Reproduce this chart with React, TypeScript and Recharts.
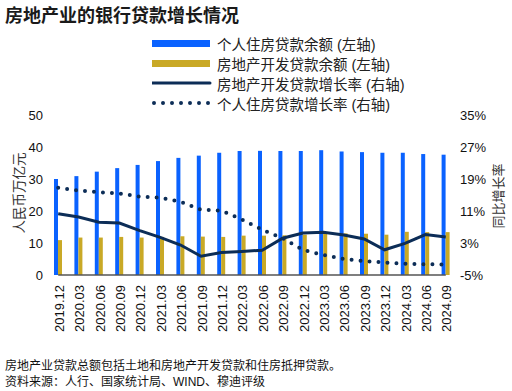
import {
  ComposedChart, Bar, Line, XAxis, YAxis, ReferenceLine,
} from 'recharts'

// ─── Data ────────────────────────────────────────────────────────
const categories = [
  '2019.12', '2020.03', '2020.06', '2020.09', '2020.12',
  '2021.03', '2021.06', '2021.09', '2021.12', '2022.03',
  '2022.06', '2022.09', '2022.12', '2023.03', '2023.06',
  '2023.09', '2023.12', '2024.03', '2024.06', '2024.09',
]
// 个人住房贷款余额 (万亿元)
const housingBalance = [
  30.0, 30.9, 32.3, 33.4, 34.4, 35.6, 36.6, 37.3, 38.2, 38.75,
  38.8, 38.75, 38.75, 39.0, 38.6, 38.4, 38.2, 38.2, 37.8, 37.6,
]
// 房地产开发贷款余额 (万亿元)
const devBalance = [
  10.9, 11.7, 11.7, 11.9, 11.7, 11.9, 12.1, 12.0, 11.9, 12.3,
  12.3, 12.4, 12.6, 13.0, 13.0, 12.9, 12.6, 13.5, 13.4, 13.4,
]
// 房地产开发贷款增长率 (%)
const devGrowth = [
  10.3, 9.5, 8.2, 8.0, 6.1, 4.4, 2.5, -0.3, 0.6, 0.9,
  1.2, 4.2, 5.5, 5.7, 5.0, 4.0, 1.3, 2.9, 5.1, 4.5,
]
// 个人住房贷款增长率 (%)
const housingGrowth = [
  16.8, 16.1, 15.7, 15.4, 14.6, 14.3, 13.3, 11.3, 11.1, 8.9,
  6.3, 4.2, 1.3, 0.0, -1.0, -1.5, -1.9, -2.2, -2.3, -2.4,
]
const leftTicks = [0, 10, 20, 30, 40, 50]
const rightTicks = [-5, 3, 11, 19, 27, 35]

const data = categories.map((c, i) => ({
  date: c,
  housingBalance: housingBalance[i],
  devBalance: devBalance[i],
  devGrowth: devGrowth[i],
  housingGrowth: housingGrowth[i],
}))

// ─── Styles ──────────────────────────────────────────────────────
const FONT = '"Liberation Sans", Arial, "Noto Sans CJK SC", sans-serif'
const BLUE = '#0a62ff'
const GOLD = '#c9a926'
const NAVY = '#0c2d57'
const tickStyle = { fontSize: 13, fill: '#111', fontFamily: FONT }

function DateTick({ x, y, payload }: any) {
  return (
    <text x={x + 1} y={y} transform={`rotate(-90, ${x + 1}, ${y})`} textAnchor="end"
      dominantBaseline="central" fontSize={13} fill="#111" fontFamily={FONT}>
      {payload.value}
    </text>
  )
}

const legendItems = [
  { label: '个人住房贷款余额 (左轴)', kind: 'bar', color: BLUE },
  { label: '房地产开发贷款余额 (左轴)', kind: 'bar', color: GOLD },
  { label: '房地产开发贷款增长率 (右轴)', kind: 'line', color: NAVY },
  { label: '个人住房贷款增长率 (右轴)', kind: 'dot', color: NAVY },
]

function ChartLegend() {
  return (
    <div style={{ position: 'absolute', left: 152, top: 33, fontFamily: FONT, fontSize: 14.5, color: '#222' }}>
      {legendItems.map(item => (
        <div key={item.label} style={{ height: 20, display: 'flex', alignItems: 'center' }}>
          <svg width={60} height={20} style={{ marginRight: 5 }}>
            {item.kind === 'bar' && <rect x={0} y={7} width={58} height={7} fill={item.color} />}
            {item.kind === 'line' && <line x1={0} y1={10} x2={58} y2={10} stroke={item.color} strokeWidth={3} strokeLinecap="round" />}
            {item.kind === 'dot' && <line x1={2} y1={10} x2={58} y2={10} stroke={item.color} strokeWidth={4}
              strokeDasharray="0 9" strokeLinecap="round" />}
          </svg>
          <span style={{ whiteSpace: 'nowrap' }}>{item.label}</span>
        </div>
      ))}
    </div>
  )
}

export default function App() {
  return (
    <div style={{ position: 'absolute', left: 0, top: 0, width: 512, height: 391, background: '#fff', overflow: 'hidden' }}>
      <div style={{ position: 'absolute', left: 5, top: 1, fontFamily: FONT, fontSize: 18, fontWeight: 'bold', color: '#1a1a1a', whiteSpace: 'nowrap' }}>
        房地产业的银行贷款增长情况
      </div>
      <ChartLegend />
      <div style={{ position: 'absolute', left: 0, top: 0 }}>
        <ComposedChart width={512} height={391} data={data}
          margin={{ top: 115, right: 6, bottom: 46, left: 8 }} barGap={0}>
          <XAxis dataKey="date" axisLine={false} tickLine={false} tickSize={0} tickMargin={10}
            height={70} interval={0} tick={<DateTick />} />
          <YAxis yAxisId="left" domain={[0, 50]} ticks={leftTicks} width={40} axisLine={false}
            tickLine={false} tickSize={0} tickMargin={5} tick={tickStyle} />
          <YAxis yAxisId="right" orientation="right" domain={[-5, 35]} ticks={rightTicks} width={50}
            axisLine={false} tickLine={false} tickSize={0} tickMargin={4} tick={tickStyle}
            tickFormatter={v => `${v}%`} />
          <Bar yAxisId="left" dataKey="housingBalance" fill={BLUE} barSize={4} isAnimationActive={false} />
          <Bar yAxisId="left" dataKey="devBalance" fill={GOLD} barSize={4} isAnimationActive={false} />
          <ReferenceLine yAxisId="left" stroke="#555" strokeWidth={1.5}
            segment={[{ x: categories[0], y: 0 }, { x: categories[categories.length - 1], y: 0 }]} />
          <Line yAxisId="right" dataKey="devGrowth" stroke={NAVY} strokeWidth={3} dot={false}
            type="linear" isAnimationActive={false} />
          <Line yAxisId="right" dataKey="housingGrowth" stroke={NAVY} strokeWidth={4} dot={false}
            strokeDasharray="0 9" strokeLinecap="round" type="linear" isAnimationActive={false} />
        </ComposedChart>
      </div>
      <div style={{ position: 'absolute', left: 11, top: 193, transform: 'translate(-50%, -50%) rotate(-90deg)',
        marginLeft: 7, fontFamily: FONT, fontSize: 13.5, color: '#333', whiteSpace: 'nowrap' }}>
        人民币万亿元
      </div>
      <div style={{ position: 'absolute', left: 497, top: 196, transform: 'translate(-50%, -50%) rotate(-90deg)',
        fontFamily: FONT, fontSize: 13, color: '#333', whiteSpace: 'nowrap' }}>
        同比增长率
      </div>
      <div style={{ position: 'absolute', left: 5, top: 358, fontFamily: FONT, fontSize: 12, color: '#111', lineHeight: '16px', whiteSpace: 'nowrap' }}>
        <div>房地产业贷款总额包括土地和房地产开发贷款和住房抵押贷款。</div>
        <div>资料来源：人行、国家统计局、WIND、穆迪评级</div>
      </div>
    </div>
  )
}
